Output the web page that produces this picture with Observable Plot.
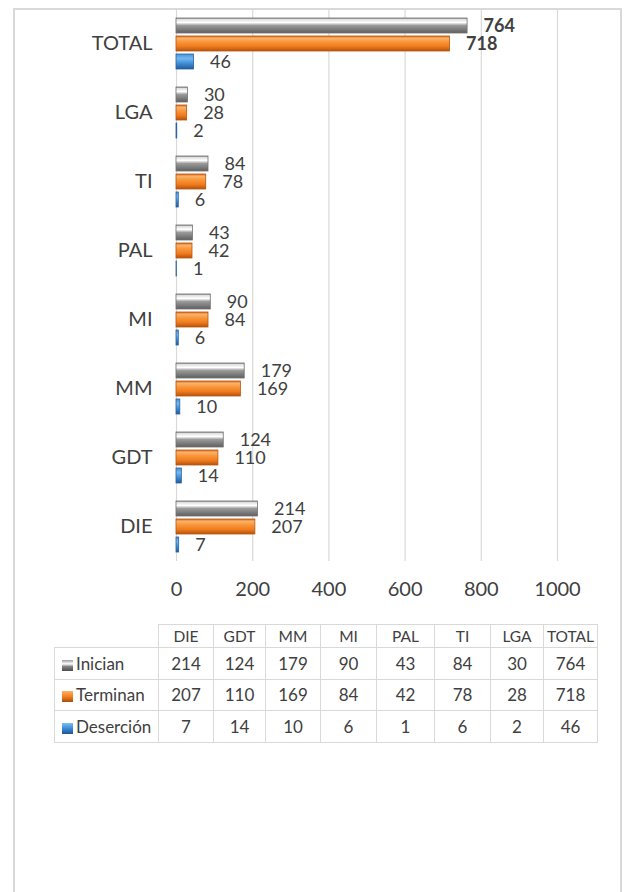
<!DOCTYPE html>
<html>
<head>
<meta charset="utf-8">
<script src="https://cdn.jsdelivr.net/npm/d3@7"></script>
<script src="https://cdn.jsdelivr.net/npm/@observablehq/plot@0.6"></script>
<style>
  html, body { margin:0; padding:0; background:#fff; width:626px; height:892px; overflow:hidden; }
  body { position:relative; font-family: Lato, "Open Sans", sans-serif; color:#404040; }
  #frame { position:absolute; left:13px; top:8px; width:609px; height:920px; border:2px solid #d9d9d9; box-sizing:border-box; }
  #chart { position:absolute; left:0; top:0; }
  #tbl { position:absolute; left:54px; top:624px; border-collapse:collapse; table-layout:fixed; font-family: Lato, sans-serif; color:#404040; }
  #tbl td, #tbl th { border:1.5px solid #d9d9d9; padding:0; text-align:center; font-weight:normal; box-sizing:border-box; }
  #tbl th { font-size:15.5px; height:23px; }
  #tbl td { font-size:17px; height:31.5px; }
  #tbl th.blank { border-top:none; border-left:none; }
  #tbl td.name { text-align:left; padding-left:7px; white-space:nowrap; }
  .sw { display:inline-block; width:11px; height:11px; margin-right:3px; vertical-align:-1px; }
</style>
</head>
<body>
<div id="frame"></div>
<div id="chart"></div>
<table id="tbl"></table>
<script>
const categories = ["DIE", "GDT", "MM", "MI", "PAL", "TI", "LGA", "TOTAL"];
const series = ["Inician", "Terminan", "Deserción"];
const inician = [214, 124, 179, 90, 43, 84, 30, 764];
const terminan = [207, 110, 169, 84, 42, 78, 28, 718];
const desercion = [7, 14, 10, 6, 1, 6, 2, 46];
const xTicks = [0, 200, 400, 600, 800, 1000];

const valuesBySeries = { "Inician": inician, "Terminan": terminan, "Deserción": desercion };
const fills = { "Inician": "url(#gInician)", "Terminan": "url(#gTerminan)", "Deserción": "url(#gDesercion)" };
const strokes = { "Inician": "#707070", "Terminan": "#b9560f", "Deserción": "#2a639f" };
const swatchCss = {
  "Inician": "linear-gradient(#9a9a9a, #ffffff 35%, #808080 60%, #4d4d4d)",
  "Terminan": "linear-gradient(#fbb26a, #f58220 50%, #a94c0c)",
  "Deserción": "linear-gradient(#7cc0f2, #3a8ad6 50%, #1f5592)"
};

const data = [];
series.forEach(s => categories.forEach((c, i) => data.push({ series: s, category: c, value: valuesBySeries[s][i] })));

const chart = Plot.plot({
  width: 626,
  height: 610,
  marginLeft: 176,
  marginRight: 69,
  marginTop: 8,
  marginBottom: 48,
  style: { fontFamily: "Lato, sans-serif", color: "#404040", background: "transparent", overflow: "visible" },
  x: { domain: [0, 1000], axis: null },
  y: { domain: series, axis: null, paddingInner: 0.17, paddingOuter: 0.5 },
  fy: { domain: categories.slice().reverse(), padding: 0, axis: null },
  marks: [
    Plot.gridX(xTicks, { stroke: "#d9d9d9", strokeOpacity: 1, strokeWidth: 1.2 }),
    Plot.axisX(xTicks, { anchor: "bottom", tickSize: 0, tickPadding: 20, fontSize: 20, label: null, tickFormat: d => String(d) }),
    Plot.axisFy({ anchor: "left", tickSize: 0, tickPadding: 24, fontSize: 20, label: null }),
    ...series.map(s => Plot.barX(data.filter(d => d.series === s), {
      x: "value", y: "series", fy: "category",
      fill: fills[s], stroke: strokes[s], strokeWidth: 0.8
    })),
    Plot.text(data.filter(d => !(d.category === "TOTAL" && d.series !== "Deserción")), {
      x: "value", y: "series", fy: "category", text: d => String(d.value),
      dx: 16, textAnchor: "start", fontSize: 18, fill: "#404040"
    }),
    Plot.text(data.filter(d => d.category === "TOTAL" && d.series !== "Deserción"), {
      x: "value", y: "series", fy: "category", text: d => String(d.value),
      dx: 16, textAnchor: "start", fontSize: 18, fontWeight: "bold", fill: "#404040"
    })
  ]
});

// gradient definitions for the bevelled bar look
const defs = d3.select(chart).insert("defs", ":first-child");
function grad(id, stops) {
  const g = defs.append("linearGradient").attr("id", id).attr("x1", 0).attr("y1", 0).attr("x2", 0).attr("y2", 1);
  stops.forEach(([o, c]) => g.append("stop").attr("offset", o).attr("stop-color", c));
}
grad("gInician", [[0, "#8c8c8c"], [0.1, "#e0e0e0"], [0.3, "#ffffff"], [0.5, "#9a9a9a"], [1, "#5f5f5f"]]);
grad("gTerminan", [[0, "#d9681a"], [0.15, "#fbb26a"], [0.38, "#f9983c"], [0.7, "#ef7b1c"], [1, "#b5530e"]]);
grad("gDesercion", [[0, "#4a92d6"], [0.3, "#72b8f0"], [0.65, "#3d8bd6"], [1, "#23599a"]]);

document.getElementById("chart").appendChild(chart);

// data table built from the same arrays
const widths = [104, 55, 52, 55, 56, 58, 56, 53, 54];
const tbl = document.getElementById("tbl");
const cg = document.createElement("colgroup");
widths.forEach(w => { const c = document.createElement("col"); c.style.width = w + "px"; cg.appendChild(c); });
tbl.appendChild(cg);
tbl.style.width = widths.reduce((a, b) => a + b, 0) + "px";
const head = document.createElement("tr");
const blank = document.createElement("th"); blank.className = "blank"; head.appendChild(blank);
categories.forEach(c => { const th = document.createElement("th"); th.textContent = c; head.appendChild(th); });
tbl.appendChild(head);
series.forEach(s => {
  const tr = document.createElement("tr");
  const name = document.createElement("td"); name.className = "name";
  const sw = document.createElement("span"); sw.className = "sw"; sw.style.background = swatchCss[s];
  name.appendChild(sw); name.appendChild(document.createTextNode(s));
  tr.appendChild(name);
  valuesBySeries[s].forEach(v => { const td = document.createElement("td"); td.textContent = v; tr.appendChild(td); });
  tbl.appendChild(tr);
});
</script>
</body>
</html>
